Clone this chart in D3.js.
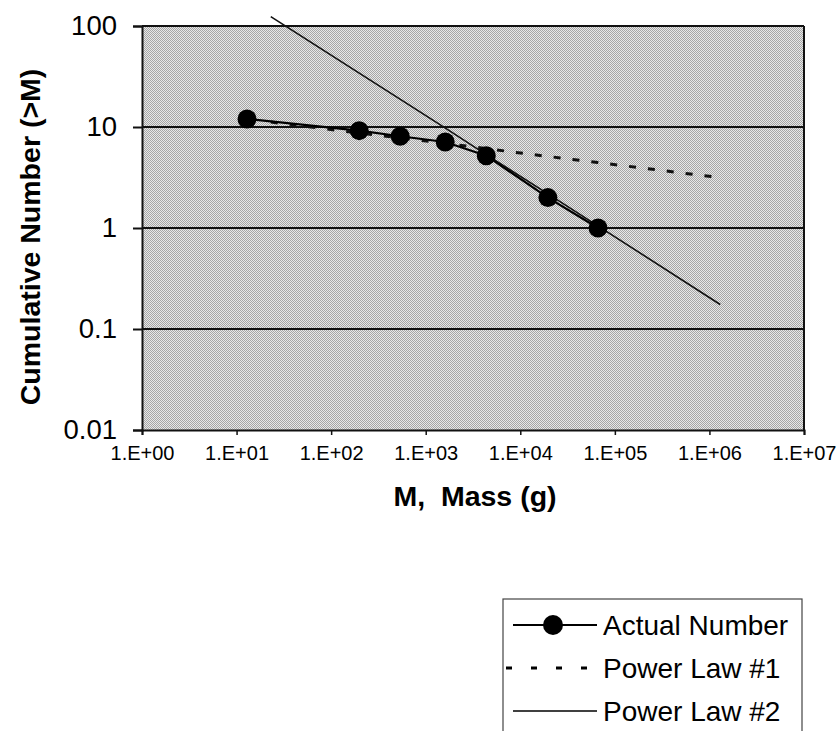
<!DOCTYPE html>
<html>
<head>
<meta charset="utf-8">
<script src="https://cdn.jsdelivr.net/npm/d3@7"></script>
<style>
  html, body { margin: 0; padding: 0; background: #fff; }
  svg { display: block; }
  text { font-family: "Liberation Sans", Arial, sans-serif; fill: #000; }
</style>
</head>
<body>
<svg id="chart" width="838" height="731"></svg>
<script>
// ---- data ----
const actualMass   = [12.9, 198, 537, 1608, 4370, 19600, 66400];
const actualNumber = [12, 9.2, 8.1, 7.1, 5.2, 2.0, 1.0];

const lawMass = [23, 200, 540, 1600, 4400, 20000, 66000, 1300000];
const law1    = [11.2, 8.7, 7.8, 6.9, 6.1, 5.1, 4.45, 3.15];
const law2    = [124, 34, 18.8, 9.8, 5.3, 2.15, 1.05, 0.175];

const xTicks = [1, 10, 100, 1000, 1e4, 1e5, 1e6, 1e7];
const xTickLabels = ["1.E+00", "1.E+01", "1.E+02", "1.E+03", "1.E+04", "1.E+05", "1.E+06", "1.E+07"];
const yTicks = [0.01, 0.1, 1, 10, 100];
const yTickLabels = ["0.01", "0.1", "1", "10", "100"];
const legendLabels = ["Actual Number", "Power Law #1", "Power Law #2"];

// ---- layout ----
const L = 142, R = 804, T = 26, B = 430;
const svg = d3.select("#chart");

const x = d3.scaleLog().domain([1, 1e7]).range([L, R]);
const y = d3.scaleLog().domain([0.01, 100]).range([B, T]);

// pattern background
const defs = svg.append("defs");
const pat = defs.append("pattern").attr("id", "dots")
  .attr("patternUnits", "userSpaceOnUse").attr("width", 2).attr("height", 2);
pat.append("rect").attr("width", 2).attr("height", 2).attr("fill", "#e8e8e8");
pat.append("rect").attr("x", 0).attr("y", 0).attr("width", 1).attr("height", 1).attr("fill", "#a6a6a6");
pat.append("rect").attr("x", 1).attr("y", 1).attr("width", 1).attr("height", 1).attr("fill", "#a6a6a6");

svg.append("rect").attr("x", L).attr("y", T).attr("width", R - L).attr("height", B - T)
  .attr("fill", "url(#dots)");

// gridlines
svg.append("g").selectAll("line").data(yTicks.filter(d => d > 0.01)).join("line")
  .attr("x1", L).attr("x2", R).attr("y1", d => y(d)).attr("y2", d => y(d))
  .attr("stroke", "#111").attr("stroke-width", 2);

// right border
svg.append("line").attr("x1", R).attr("x2", R).attr("y1", T).attr("y2", B + 1)
  .attr("stroke", "#111").attr("stroke-width", 2);

// y axis
const yAxis = d3.axisLeft(y).tickValues(yTicks).tickSize(9).tickPadding(16)
  .tickFormat((d, i) => yTickLabels[i]);
const gy = svg.append("g").attr("transform", `translate(${L},0)`).call(yAxis);
gy.select(".domain").attr("stroke", "#111").attr("stroke-width", 2);
gy.selectAll(".tick line").attr("stroke", "#111").attr("stroke-width", 2);
gy.selectAll(".tick text").attr("font-size", 27.5).attr("font-family", "Liberation Sans, Arial, sans-serif");

// x axis
const xAxis = d3.axisBottom(x).tickValues(xTicks).tickSize(5).tickPadding(11)
  .tickFormat((d, i) => xTickLabels[i]);
const gx = svg.append("g").attr("transform", `translate(0,${B})`).call(xAxis);
gx.select(".domain").attr("stroke", "#111").attr("stroke-width", 2);
gx.selectAll(".tick line").attr("stroke", "#111").attr("stroke-width", 1.5);
gx.selectAll(".tick text").attr("font-size", 20).attr("font-family", "Liberation Sans, Arial, sans-serif");

// axis titles
svg.append("text").attr("transform", "translate(40,237) rotate(-90)")
  .attr("text-anchor", "middle").attr("font-weight", "bold").attr("font-size", 28.5)
  .text("Cumulative Number (>M)");
svg.append("text").attr("x", 475).attr("y", 506)
  .attr("text-anchor", "middle").attr("font-weight", "bold").attr("font-size", 28.5)
  .style("white-space", "pre").attr("xml:space", "preserve")
  .text("M,  Mass (g)");

// series
const line = d3.line().x(d => x(d[0])).y(d => y(d[1]));

svg.append("path").datum(lawMass.map((m, i) => [m, law2[i]]))
  .attr("d", line).attr("fill", "none").attr("stroke", "#111").attr("stroke-width", 1.6);

svg.append("path").datum(lawMass.map((m, i) => [m, law1[i]]))
  .attr("d", line).attr("fill", "none").attr("stroke", "#111").attr("stroke-width", 3)
  .attr("stroke-dasharray", "7,12");

svg.append("path").datum(actualMass.map((m, i) => [m, actualNumber[i]]))
  .attr("d", line).attr("fill", "none").attr("stroke", "#000").attr("stroke-width", 2.2);

svg.append("g").selectAll("circle").data(actualMass.map((m, i) => [m, actualNumber[i]])).join("circle")
  .attr("cx", d => x(d[0])).attr("cy", d => y(d[1])).attr("r", 9.5).attr("fill", "#000");

// legend
const lg = svg.append("g");
lg.append("rect").attr("x", 503).attr("y", 599).attr("width", 299).attr("height", 150)
  .attr("fill", "#fff").attr("stroke", "#444").attr("stroke-width", 1.2);
const rowY = [625, 668, 711];
lg.append("line").attr("x1", 513).attr("x2", 597).attr("y1", rowY[0]).attr("y2", rowY[0])
  .attr("stroke", "#000").attr("stroke-width", 2);
lg.append("circle").attr("cx", 553).attr("cy", rowY[0]).attr("r", 10).attr("fill", "#000");
lg.append("line").attr("x1", 506).attr("x2", 597).attr("y1", rowY[1]).attr("y2", rowY[1])
  .attr("stroke", "#000").attr("stroke-width", 3).attr("stroke-dasharray", "6,19");
lg.append("line").attr("x1", 513).attr("x2", 597).attr("y1", rowY[2]).attr("y2", rowY[2])
  .attr("stroke", "#000").attr("stroke-width", 1.6);

lg.selectAll("text.lab").data(legendLabels).join("text").attr("class", "lab")
  .attr("x", 603).attr("y", (d, i) => rowY[i]).attr("dy", "0.36em")
  .attr("font-size", 28).text(d => d);
</script>
</body>
</html>
